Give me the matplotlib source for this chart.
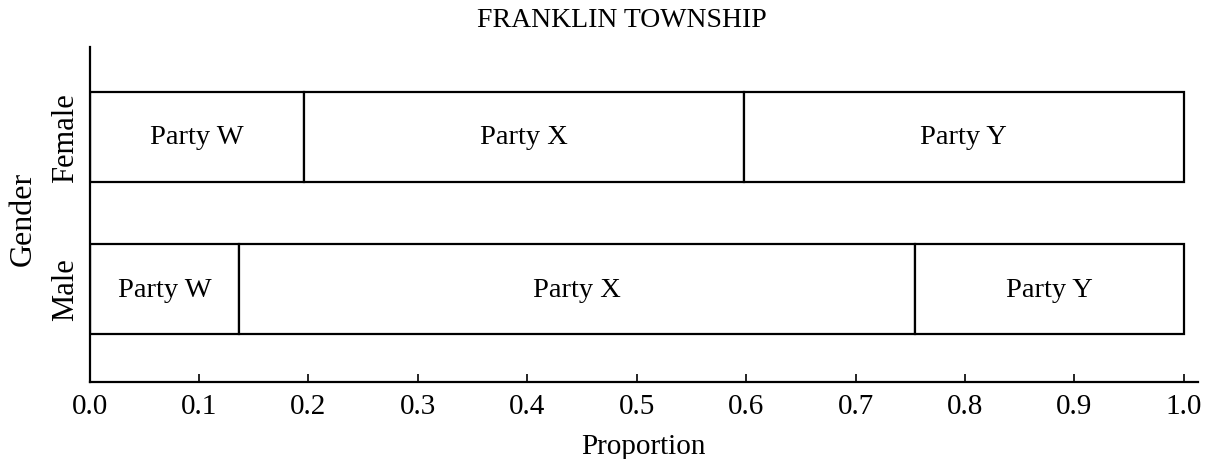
import matplotlib
matplotlib.use("Agg")
import matplotlib.pyplot as plt

plt.rcParams['font.family'] = ['Liberation Serif', 'DejaVu Serif']

genders = ["Male", "Female"]
parties = ["Party W", "Party X", "Party Y"]
male_props = [0.137, 0.617, 0.246]
female_props = [0.196, 0.402, 0.402]

fig = plt.figure(figsize=(12.28, 4.6), dpi=100)
ax = fig.add_axes([0.0729, 0.1674, 0.9027, 0.7283])

for yi, props in enumerate([male_props, female_props]):
    left = 0.0
    for name, p in zip(parties, props):
        ax.barh(yi, p, left=left, height=0.59, color="white",
                edgecolor="black", linewidth=1.6)
        ax.text(left + p / 2, yi, name, ha="center", va="center", fontsize=20.5)
        left += p

ax.set_xlim(0, 1.013)
ax.set_ylim(-0.61, 1.59)
ax.set_xticks([i / 10 for i in range(11)])
ax.set_xticklabels(["%.1f" % (i / 10) for i in range(11)], fontsize=21)
ax.set_yticks([0, 1])
ax.set_yticklabels(genders, rotation=90, va="center", fontsize=22)
ax.tick_params(axis="x", direction="in", length=6, width=1.2, pad=8)
ax.tick_params(axis="y", length=0, pad=7)
for s in ["top", "right"]:
    ax.spines[s].set_visible(False)
for s in ["left", "bottom"]:
    ax.spines[s].set_linewidth(1.6)

ax.set_xlabel("Proportion", fontsize=21, labelpad=10)
ax.set_ylabel("Gender", fontsize=23)
ax.yaxis.set_label_coords(-0.047, 0.49)
fig.text(0.5066, 0.955, "FRANKLIN TOWNSHIP", ha="center", va="center", fontsize=20)

fig.savefig("out.png", dpi=100, facecolor="white")
